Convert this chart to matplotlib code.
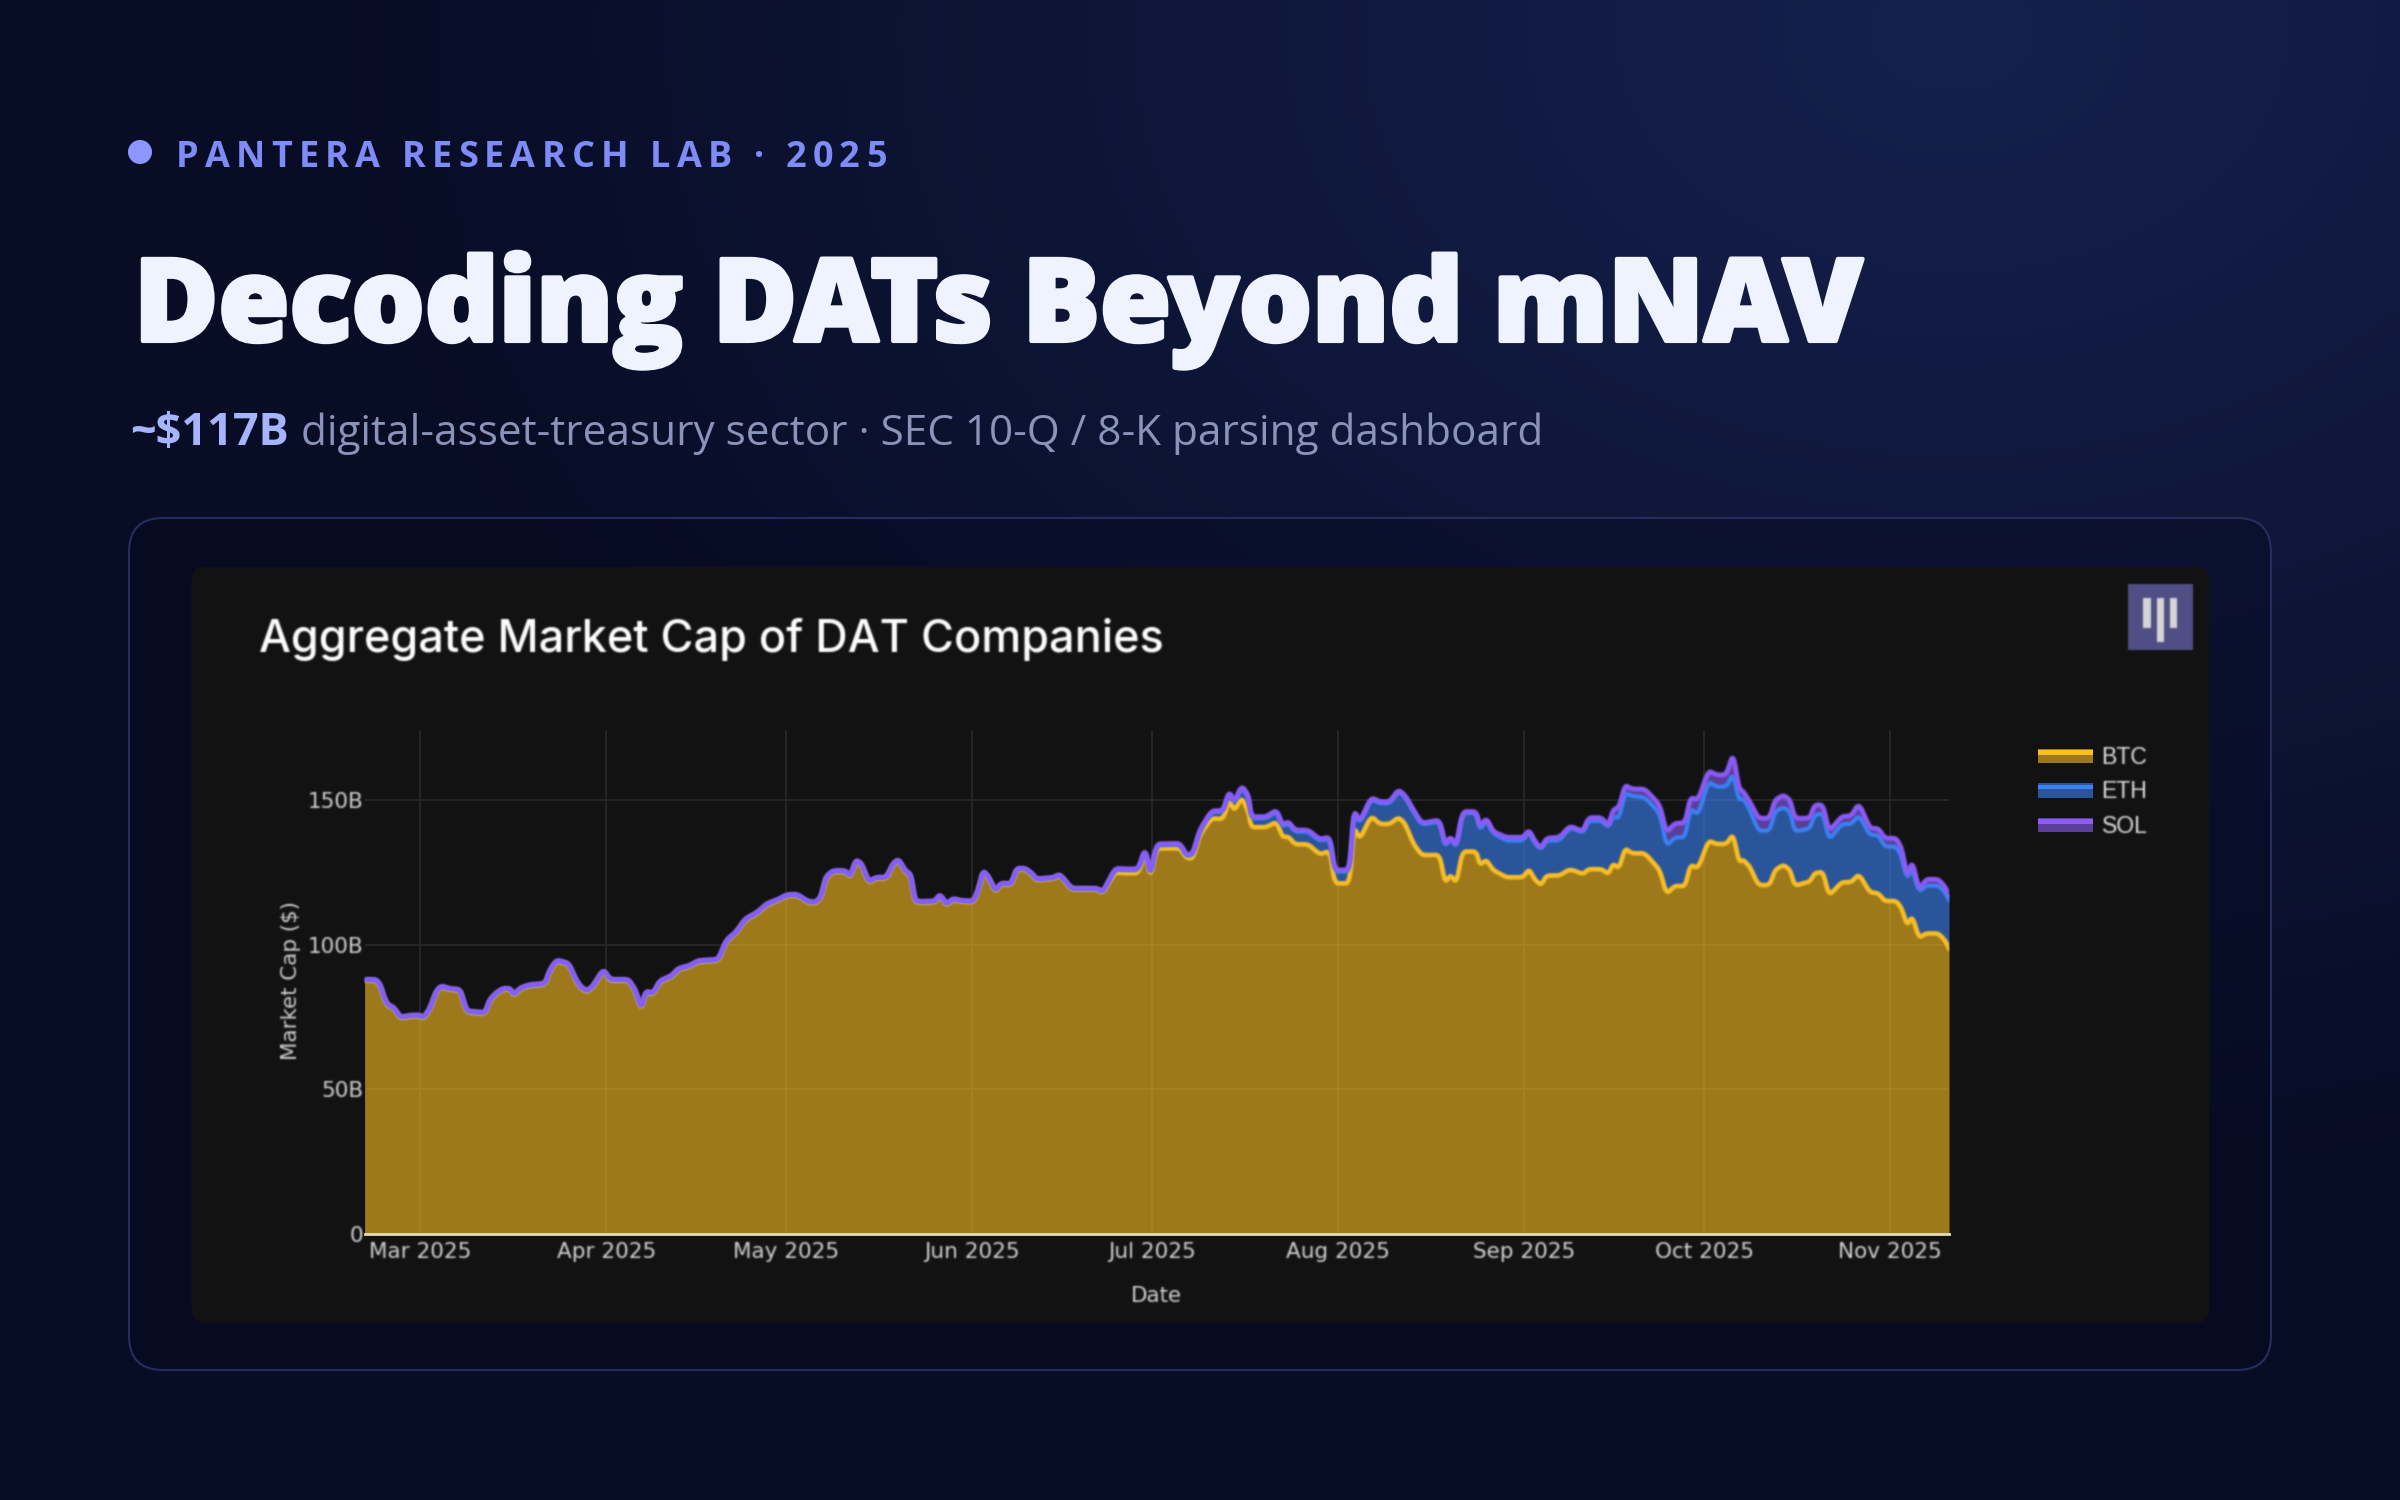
#!/usr/bin/env python
# Aggregate market cap of DAT companies, stacked by treasury asset
import numpy as np
import matplotlib
matplotlib.use("Agg")
import matplotlib.pyplot as plt
import matplotlib.dates as mdates
import matplotlib.patheffects as pe
from matplotlib.patches import FancyBboxPatch, Rectangle, Ellipse
from matplotlib.ticker import FuncFormatter
from matplotlib.text import Text

W, H = 2400, 1500
PT = 0.72  # points per pixel at dpi 100

# days since 2025-03-01
day = [-9.3, -7.4, -6.7, -6.1, -5.5, -4.5, -3.3, -1.7, -0.3, 0.6, 1.6, 2.6, 3.5, 4.9, 6.6, 7.3, 7.8, 10.8, 11.6, 12.7,
       13.8, 14.9, 15.6, 16.7, 18.3, 20.8, 21.6, 22.7, 24.7, 25.8, 26.7, 27.7, 28.7, 30.5, 31.6, 34.7, 35.8, 36.8, 37.6, 38.8,
       39.9, 41.9, 43.0, 44.9, 46.3, 49.7, 51.0, 52.7, 54.1, 56.3, 57.7, 59.7, 61.0, 62.7, 64.5, 65.8, 66.8, 67.6, 68.8, 70.8,
       71.7, 72.6, 73.5, 74.7, 76.0, 77.7, 78.8, 79.7, 80.8, 81.7, 82.4, 83.3, 85.8, 86.6, 87.7, 88.8, 90.2, 92.2, 93.0, 93.8,
       94.7, 95.8, 96.9, 98.5, 99.4, 100.8, 101.9, 102.7, 105.5, 106.6, 108.5, 112.7, 113.8,
       115.8, 117.4, 119.7, 120.8, 121.7, 122.7, 126.6, 127.7, 128.8, 129.9, 131.9, 133.8, 134.8, 135.7, 136.9, 138.0, 138.5,
       141.0, 142.7, 143.7, 144.7, 145.8, 148.0, 149.9, 151.6, 152.4, 154.9, 155.6, 156.6, 158.5, 159.9, 161.6, 163.0, 164.1,
       165.5, 166.9, 169.9, 170.8, 171.7, 172.7, 173.7, 176.0,
       176.6, 177.7, 178.8, 181.0, 183.8, 184.8, 185.8, 186.8, 187.7, 189.9, 191.6, 193.8, 194.7, 196.9, 198.0, 198.8, 199.8,
       200.8, 201.9, 204.1, 206.6, 207.7, 209.1, 210.8, 211.7, 213.0, 214.7, 216.0, 217.7, 218.8, 219.8, 220.5, 221.6, 223.0,
       224.9, 225.8, 227.2, 228.3, 229.1, 231.6, 232.4, 233.8, 234.8, 236.9, 238.5, 239.8, 241.6, 243.0, 244.1, 246.0, 246.9,
       247.8, 248.7, 249.8, 251.0, 253.0, 254.1, 254.8]

# market cap in $B per treasury asset
btc = [87.6, 87.6, 85.7, 81.6, 79.0, 78.0, 74.5, 75.2, 75.3, 74.6, 77.6, 83.4, 85.4, 84.4, 84.2, 79.3, 76.7, 76.1, 80.7, 83.1,
       84.5, 84.5, 82.4, 84.7, 85.8, 86.2, 90.9, 94.3, 93.2, 88.0, 85.1, 83.7, 85.1, 91.1, 87.6, 87.6, 83.9, 77.6, 83.6, 82.8,
       87.1, 88.9, 91.4, 92.4, 94.1, 94.5, 101.2, 104.1, 108.4, 111.0, 113.7, 115.3, 116.8, 117.1, 114.7, 114.2, 116.2, 123.1, 125.2, 125.2,
       123.3, 128.9, 127.7, 121.4, 122.9, 122.9, 127.7, 129.1, 125.2, 124.0, 115.0, 114.5, 114.7, 117.0, 113.6, 115.6, 114.8, 114.7, 118.5, 125.2,
       123.1, 118.3, 121.0, 120.6, 126.0, 126.0, 124.3, 122.3, 122.8, 124.0, 119.1, 119.1, 117.9,
       125.0, 124.7, 124.7, 132.0, 123.3, 133.3, 133.3, 129.9, 129.9, 137.9, 143.7, 143.4, 150.0, 146.3, 150.9, 146.0, 140.6,
       140.6, 142.5, 137.3, 137.3, 134.7, 134.7, 131.2, 132.4, 121.2, 121.2, 140.8, 136.5, 144.5, 141.7, 141.7, 144.0, 142.0,
       135.0, 131.0, 131.0, 121.4, 124.1, 121.4, 132.2, 132.2,
       127.6, 129.3, 125.8, 123.3, 123.3, 126.1, 122.4, 120.6, 123.9, 123.9, 126.1, 124.4, 126.1, 126.1, 124.4, 127.9, 126.4,
       133.3, 131.6, 131.6, 125.8, 117.5, 120.4, 120.1, 127.6, 126.4, 136.0, 134.8, 134.8, 138.2, 128.7, 129.3, 127.0, 120.6,
       120.6, 125.8, 127.6, 125.8, 120.4, 121.8, 124.7, 125.2, 116.9, 121.6, 121.6, 124.4, 118.1, 117.8, 115.1, 115.1, 112.6,
       106.8, 109.7, 102.4, 103.9, 103.9, 101.6, 98.7]

eth = [0.2, 0.2, 0.2, 0.2, 0.2, 0.2, 0.2, 0.2, 0.2, 0.2, 0.2, 0.2, 0.2, 0.2, 0.2, 0.2, 0.2, 0.2, 0.2, 0.2,
       0.2, 0.2, 0.2, 0.2, 0.2, 0.2, 0.2, 0.2, 0.2, 0.2, 0.2, 0.2, 0.2, 0.2, 0.2, 0.2, 0.2, 0.2, 0.2, 0.2,
       0.2, 0.2, 0.2, 0.2, 0.2, 0.2, 0.2, 0.2, 0.2, 0.2, 0.2, 0.2, 0.2, 0.2, 0.2, 0.2, 0.2, 0.2, 0.2, 0.2,
       0.2, 0.2, 0.2, 0.2, 0.2, 0.2, 0.2, 0.2, 0.2, 0.2, 0.2, 0.2, 0.2, 0.2, 0.2, 0.2, 0.2, 0.2, 0.2, 0.2,
       0.2, 0.2, 0.2, 0.2, 0.2, 0.2, 0.2, 0.2, 0.2, 0.2, 0.2, 0.2, 0.2,
       1.0, 1.1, 1.1, 0.9, 0.4, 1.1, 1.3, 0.7, 1.3, 1.3, 2.2, 2.5, 2.5, 2.7, 3.6, 5.2, 3.1,
       3.1, 3.6, 3.6, 4.7, 4.4, 4.4, 4.7, 4.4, 4.1, 4.1, 5.3, 5.5, 5.9, 7.2, 7.2, 9.0, 9.2,
       11.1, 10.5, 11.6, 12.6, 12.7, 12.2, 13.3, 13.3,
       12.0, 13.8, 12.7, 12.7, 12.7, 13.0, 12.6, 12.4, 12.1, 12.1, 14.5, 14.4, 16.7, 16.7, 16.2, 16.4, 17.3,
       19.2, 19.8, 19.3, 19.6, 16.6, 16.7, 17.0, 19.5, 18.4, 20.4, 19.8, 19.8, 21.0, 21.3, 21.3, 19.6, 18.8,
       18.8, 20.2, 19.9, 20.2, 18.7, 18.4, 20.1, 20.2, 19.3, 20.1, 20.1, 20.4, 19.8, 20.1, 18.8, 18.8, 17.8,
       16.1, 16.7, 15.9, 16.5, 16.5, 16.7, 16.7]

sol = [0.2, 0.2, 0.2, 0.2, 0.2, 0.2, 0.2, 0.2, 0.2, 0.2, 0.2, 0.2, 0.2, 0.2, 0.2, 0.2, 0.2, 0.2, 0.2, 0.2,
       0.2, 0.2, 0.2, 0.2, 0.2, 0.2, 0.2, 0.2, 0.2, 0.2, 0.2, 0.2, 0.2, 0.2, 0.2, 0.2, 0.2, 0.2, 0.2, 0.2,
       0.2, 0.2, 0.2, 0.2, 0.2, 0.2, 0.2, 0.2, 0.2, 0.2, 0.2, 0.2, 0.2, 0.2, 0.2, 0.2, 0.2, 0.2, 0.2, 0.2,
       0.2, 0.2, 0.2, 0.2, 0.2, 0.2, 0.2, 0.2, 0.2, 0.2, 0.2, 0.2, 0.2, 0.2, 0.2, 0.2, 0.2, 0.2, 0.2, 0.2,
       0.2, 0.2, 0.2, 0.2, 0.2, 0.2, 0.2, 0.2, 0.2, 0.2, 0.2, 0.2, 0.2,
       0.4, 0.4, 0.4, 0.4, 0.4, 0.4, 0.4, 0.4, 0.4, 0.4, 0.4, 0.4, 0.4, 0.4, 0.4, 0.5, 0.5,
       0.5, 0.5, 0.5, 0.5, 0.5, 0.5, 0.5, 0.5, 0.5, 0.5, 0.5, 0.5, 0.5, 0.5, 0.5, 0.5, 0.5,
       0.5, 0.5, 0.5, 0.5, 0.5, 0.5, 0.5, 0.5,
       1.2, 0.6, 0.6, 1.1, 1.1, 0.5, 0.6, 0.3, 0.8, 1.1, 0.4, 0.3, 1.1, 1.1, 0.4, 2.3, 3.8,
       2.7, 2.4, 2.9, 2.9, 4.6, 4.9, 4.9, 3.8, 5.2, 3.8, 4.1, 4.1, 6.9, 4.0, 2.3, 2.8, 4.3,
       4.3, 4.0, 4.2, 4.0, 4.6, 3.5, 3.5, 2.9, 2.9, 2.6, 2.8, 4.1, 2.3, 2.3, 2.9, 2.9, 2.9,
       0.8, 2.3, 0.6, 2.2, 2.2, 1.8, 1.8]

names = ["BTC", "ETH", "SOL"]
colors = ["#fbbf24", "#3b82f6", "#8b5cf6"]
line_widths = [3.3, 3.0, 3.5]
y_ticks = [0, 50, 100, 150]


def soft(img, dpi):
    # small binomial blur, premultiplied so edges do not go dark
    pad = 3
    img = np.pad(img, ((pad, pad), (pad, pad), (0, 0)))
    a = img[..., 3:]
    out = np.concatenate([img[..., :3] * a, a], axis=2)
    k = [0.04, 0.22, 0.48, 0.22, 0.04]
    for axis in (0, 1):
        out = sum(w * np.roll(out, i - 2, axis=axis) for i, w in enumerate(k))
    a = out[..., 3:]
    rgb = np.where(a > 0, out[..., :3] / np.maximum(a, 1e-6), 0)
    return np.clip(np.concatenate([rgb, a], axis=2), 0, 1), -pad, -pad


def round_corners(x, y, f=0.35, r=0.6, n=6):
    # quadratic corner at each vertex, so the stack has a spline-like outline
    x = np.asarray(x, float)
    y = np.asarray(y, float)
    out_x, out_y = [x[0]], [y[0]]
    u = np.linspace(0, 1, n)
    for i in range(1, len(x) - 1):
        fa = min(f, r / (x[i] - x[i - 1]))
        fb = min(f, r / (x[i + 1] - x[i]))
        ax_, ay_ = x[i] + fa * (x[i - 1] - x[i]), y[i] + fa * (y[i - 1] - y[i])
        bx_, by_ = x[i] + fb * (x[i + 1] - x[i]), y[i] + fb * (y[i + 1] - y[i])
        out_x.extend((1 - u) ** 2 * ax_ + 2 * u * (1 - u) * x[i] + u ** 2 * bx_)
        out_y.extend((1 - u) ** 2 * ay_ + 2 * u * (1 - u) * y[i] + u ** 2 * by_)
    out_x.append(x[-1])
    out_y.append(y[-1])
    return np.array(out_x), np.array(out_y)


class SpacedText(Text):
    # one text with letter spacing, which plain Text can't do
    def __init__(self, *args, tracking=0, **kwargs):
        super().__init__(*args, **kwargs)
        self.tracking = tracking

    def draw(self, renderer):
        x, y = self.get_transform().transform(self.get_position())
        y = renderer.height - y
        fp = self.get_fontproperties()
        gc = renderer.new_gc()
        gc.set_foreground(self.get_color())
        gc.set_antialiased(True)
        for ch in self.get_text():
            renderer.draw_text(gc, x, y, ch, fp, 0)
            x += renderer.get_text_width_height_descent(ch, fp, False)[0] + self.tracking
        gc.restore()


fig = plt.figure(figsize=(W / 100, H / 100), dpi=100)

# page layer in pixel coordinates
bg = fig.add_axes([0, 0, 1, 1])
bg.axis("off")

yy, xx = np.mgrid[0:H:4, 0:W:4]
t = np.clip(np.sqrt(((xx - 1950) / 1600.0) ** 2 + ((yy - 30) / 1150.0) ** 2), 0, 1)[..., None]
top_col = np.array([0x15, 0x20, 0x4e]) / 255.0
low_col = np.array([0x08, 0x0d, 0x25]) / 255.0
bg.imshow(top_col * (1 - t) + low_col * t, extent=[0, W, H, 0], aspect="auto", interpolation="bilinear", zorder=0)
bg.set_xlim(0, W)
bg.set_ylim(H, 0)

bg.add_patch(FancyBboxPatch((129, 518), 2142, 852, boxstyle="round,pad=0,rounding_size=34",
                            fc=(0.02, 0.04, 0.12, 0.4), ec="#252d5c", lw=1.5, zorder=1))
bg.add_patch(FancyBboxPatch((191.5, 567), 2018, 755.5, boxstyle="round,pad=0,rounding_size=14",
                            fc="#121212", ec="none", zorder=2))

# header
bg.add_patch(Ellipse((140, 152), 24, 24, fc="#8b97ff", ec="none", zorder=3))
bg.add_artist(SpacedText(176, 167, "PANTERA RESEARCH LAB · 2025", tracking=6.2, color="#7f8cf8",
                         family="Open Sans", weight="bold", fontsize=36 * PT, zorder=3))
head = bg.text(134, 341, "Decoding DATs Beyond mNAV", color="#eff3ff", family="Open Sans", weight=800,
               fontsize=115 * PT, zorder=3)
head.set_path_effects([pe.withStroke(linewidth=3, foreground="#eff3ff")])
bg.text(130, 445, "~$117B", color="#a5b4fc", family="Open Sans", weight="bold", fontsize=45 * PT, zorder=3)
bg.text(301, 445, "digital-asset-treasury sector · SEC 10-Q / 8-K parsing dashboard", color="#8a93b8",
        family="Open Sans", weight="normal", fontsize=42.2 * PT, zorder=3)

# chart title
txt = [bg.text(259, 652, "Aggregate Market Cap of DAT Companies", color="#ffffff", family="Inter",
               weight=500, fontsize=45 * PT, zorder=3)]

# logo tile
logo = [Rectangle((2128, 584), 65, 66, fc="#4f4f85", ec="none", zorder=3),
        Rectangle((2143.3, 597.7), 7.4, 30.6, fc="#d6d6d6", ec="none", zorder=4),
        Rectangle((2157.3, 597.7), 7.0, 44, fc="#d6d6d6", ec="none", zorder=4),
        Rectangle((2170, 597.7), 7.3, 30.6, fc="#d6d6d6", ec="none", zorder=4)]
for p in logo:
    bg.add_patch(p)
    p.set_agg_filter(soft)

# legend swatches: bright stroke on top of the fill colour
for name, col, y0 in zip(names, colors, [748.5, 783, 817.5]):
    bg.add_patch(Rectangle((2037.5, y0), 55, 14.5, fc=col, alpha=0.6, ec="none", zorder=3))
    bg.add_patch(Rectangle((2037.5, y0 + 1.5), 55, 4.5, fc=col, ec="none", zorder=4))
    txt.append(bg.text(2101.5, y0 + 15.5, name, color="#e0e0e0", family="Liberation Sans", fontsize=23 * PT, zorder=3))

# stacked chart
ax = fig.add_axes([364.6 / W, 1 - 1234 / H, (1949 - 364.6) / W, (1234 - 730) / H])
ax.patch.set_alpha(0)

start = np.datetime64("2025-03-01T00:00")
base = np.zeros(len(day))
lines = []
for vals, lw, col in zip([btc, eth, sol], line_widths, colors):
    top = base + np.array(vals)
    dx, low = round_corners(day, base)
    dx, high = round_corners(day, top)
    dates = start + (dx * 1440).astype("timedelta64[m]")
    ax.fill_between(dates, low, high, color=col, alpha=0.6, lw=0, zorder=2)
    lines.append(ax.plot(dates, high, color=col, lw=lw, solid_joinstyle="round", zorder=3)[0])
    base = top
for ln in lines:
    ln.set_agg_filter(soft)

ax.set_xlim(dates[0], dates[-1])
ax.set_ylim(0, 174.2)
ax.set_yticks(y_ticks)
ax.yaxis.set_major_formatter(FuncFormatter(lambda v, p: "0" if v == 0 else "%dB" % v))
ax.xaxis.set_major_locator(mdates.MonthLocator())
ax.xaxis.set_major_formatter(mdates.DateFormatter("%b %Y"))
ax.grid(True, color="#2b2b2b", lw=1.1, zorder=1)
ax.set_axisbelow(True)
for s in ["top", "right", "left"]:
    ax.spines[s].set_visible(False)
ax.spines["bottom"].set_color("#e6dcb4")
ax.spines["bottom"].set_linewidth(2)
ax.spines["bottom"].set_zorder(5)
ax.tick_params(length=0, labelcolor="#d4d4d4", labelsize=15.5, pad=6)
ax.tick_params(axis="y", pad=1)
ax.set_xlabel("Date", color="#d4d4d4", fontsize=15.4)
ax.set_ylabel("Market Cap ($)", color="#d4d4d4", fontsize=15.4, va="center")
ax.yaxis.set_label_coords((291 - 364.6) / (1949 - 364.6), (1234 - 980) / (1234 - 730))
ax.xaxis.set_label_coords((1156 - 364.6) / (1949 - 364.6), -(1295.5 - 1234) / (1234 - 730))
ax.xaxis.label.set_verticalalignment("center")

for t_ in txt + ax.get_xticklabels() + ax.get_yticklabels() + [ax.xaxis.label, ax.yaxis.label]:
    t_.set_agg_filter(soft)

fig.savefig("out.png", dpi=100)
